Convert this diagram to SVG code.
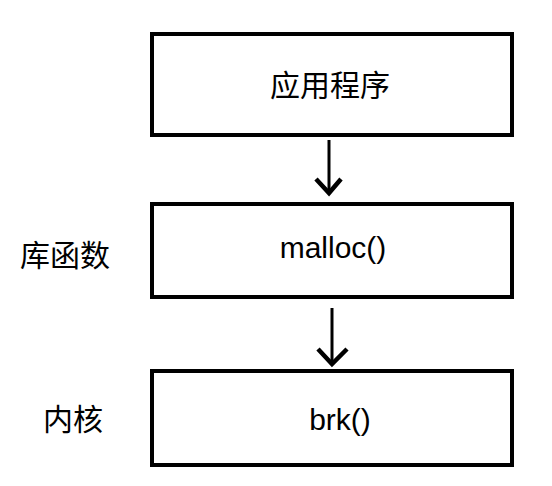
<svg xmlns="http://www.w3.org/2000/svg" width="552" height="486" viewBox="0 0 552 486">
  <style>
    .box { fill: #ffffff; stroke: #000000; stroke-width: 4; }
    .txt { font-family: "Liberation Sans", "Noto Sans CJK SC", sans-serif; font-size: 30px; fill: #000000; }
    .line { fill: none; stroke: #000000; stroke-width: 3; }
    .head { fill: none; stroke: #000000; stroke-width: 4.5; stroke-linejoin: miter; }
  </style>
  <rect x="0" y="0" width="552" height="486" fill="#ffffff"/>
  <g id="connectors">
    <path class="line" d="M329,140 L329,192"/>
    <path class="head" d="M316,179 L329,193 L341,179"/>
    <path class="line" d="M332,308 L332,363"/>
    <path class="head" d="M318,349 L332,364 L347,349"/>
  </g>
  <g id="node-app">
    <rect class="box" x="152" y="34" width="360" height="101"/>
    <text class="txt" x="330" y="96" text-anchor="middle">应用程序</text>
  </g>
  <g id="node-malloc">
    <rect class="box" x="152" y="204" width="360" height="93"/>
    <text class="txt" x="333" y="258" text-anchor="middle">malloc()</text>
  </g>
  <g id="node-brk">
    <rect class="box" x="152" y="371" width="360" height="94"/>
    <text class="txt" x="340" y="430" text-anchor="middle">brk()</text>
  </g>
  <g id="label-lib">
    <text class="txt" x="65" y="266" text-anchor="middle">库函数</text>
  </g>
  <g id="label-kernel">
    <text class="txt" x="73" y="430" text-anchor="middle">内核</text>
  </g>
</svg>
